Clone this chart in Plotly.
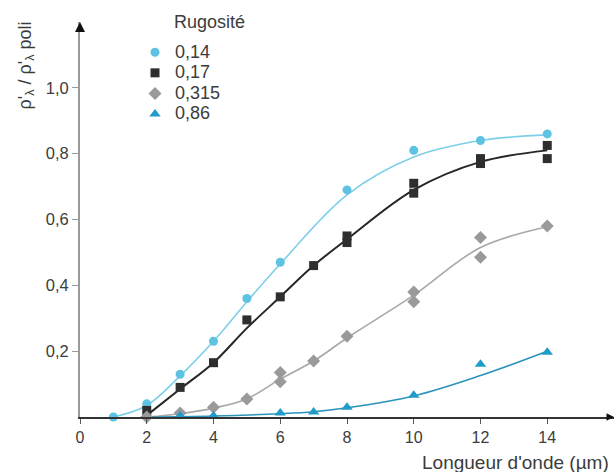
import plotly.graph_objects as go

# ---- data ----
series_names = ["0,14", "0,17", "0,315", "0,86"]

x_014 = [1, 2, 3, 4, 5, 6, 8, 10, 12, 14]
y_014 = [0.0, 0.04, 0.13, 0.23, 0.36, 0.47, 0.69, 0.81, 0.84, 0.86]

x_017 = [2, 3, 4, 5, 6, 7, 8, 8, 10, 10, 12, 12, 14, 14]
y_017 = [0.02, 0.09, 0.165, 0.295, 0.365, 0.46, 0.55, 0.53, 0.71, 0.68, 0.785, 0.77, 0.825, 0.785]

x_0315 = [2, 3, 4, 5, 6, 6, 7, 8, 10, 10, 12, 12, 14]
y_0315 = [0.0, 0.012, 0.03, 0.055, 0.135, 0.107, 0.17, 0.245, 0.38, 0.35, 0.545, 0.485, 0.58]

x_086 = [3, 4, 6, 7, 8, 10, 12, 14]
y_086 = [0.004, 0.004, 0.012, 0.015, 0.03, 0.066, 0.16, 0.197]

# fitted curves (knots)
cx_014 = [1, 2, 3, 4, 5, 6, 8, 10, 12, 14]
cy_014 = [0.0, 0.035, 0.125, 0.23, 0.35, 0.465, 0.675, 0.79, 0.84, 0.857]
cx_017 = [2, 3, 4, 5, 6, 7, 8, 10, 12, 14]
cy_017 = [0.005, 0.085, 0.165, 0.27, 0.365, 0.46, 0.54, 0.69, 0.775, 0.81]
cx_0315 = [2, 3, 4, 5, 6, 7, 8, 10, 12, 14]
cy_0315 = [0.0, 0.01, 0.027, 0.055, 0.115, 0.17, 0.24, 0.37, 0.515, 0.578]
cx_086 = [2, 4, 6, 7, 8, 10, 12, 14]
cy_086 = [0.0, 0.003, 0.01, 0.016, 0.028, 0.064, 0.126, 0.2]

x_tickvals = [0, 2, 4, 6, 8, 10, 12, 14]
x_ticktext = ["0", "2", "4", "6", "8", "10", "12", "14"]
y_tickvals = [0.2, 0.4, 0.6, 0.8, 1.0]
y_ticktext = ["0,2", "0,4", "0,6", "0,8", "1,0"]

legend_title = "Rugosité"
x_title = "Longueur d'onde (µm)"
y_title = "ρ'<sub>λ</sub> / ρ'<sub>λ</sub> poli"

# ---- styles ----
marker_colors = ["#5ec3e2", "#2e2e2e", "#9a9a9a", "#1f9cc8"]
line_colors = ["#7ccfe8", "#262626", "#a8a8a8", "#2a93bd"]
line_widths = [1.6, 2.0, 1.6, 1.6]
symbols = ["circle", "square", "diamond", "triangle-up"]
sizes = [9, 9, 10, 10]

FONT = "Liberation Sans, Arial, sans-serif"
TXT = "#3c3c3c"

X_MAX, Y_MAX = 16, 1.2

points = [(x_014, y_014), (x_017, y_017), (x_0315, y_0315), (x_086, y_086)]
curves = [(cx_014, cy_014), (cx_017, cy_017), (cx_0315, cy_0315), (cx_086, cy_086)]

fig = go.Figure()
for i, (cx, cy) in enumerate(curves):
    fig.add_trace(go.Scatter(
        x=cx, y=cy, mode="lines",
        line=dict(color=line_colors[i], width=line_widths[i], shape="spline", smoothing=1.0),
        showlegend=False, hoverinfo="skip", cliponaxis=False))
for i, (px, py) in enumerate(points):
    fig.add_trace(go.Scatter(
        x=px, y=py, mode="markers",
        name='<span style="font-size:18px">' + series_names[i] + "</span>",
        marker=dict(color=marker_colors[i], symbol=symbols[i], size=sizes[i], line=dict(width=0)),
        cliponaxis=False))

fig.update_layout(
    width=616, height=472,
    margin=dict(l=80, r=2, t=22, b=55),
    paper_bgcolor="white", plot_bgcolor="white",
    font=dict(family=FONT, size=16, color=TXT),
    showlegend=True,
    legend=dict(x=0.103, y=0.962, xanchor="left", yanchor="top",
                bgcolor="rgba(0,0,0,0)", font=dict(size=13.5, color=TXT),
                itemwidth=30, tracegroupgap=0),
    xaxis=dict(range=[0, X_MAX], showgrid=False, zeroline=False,
               showline=True, linecolor="#333333", linewidth=1.5,
               ticks="outside", ticklen=5, tickcolor="#555555", tickwidth=1,
               tickvals=x_tickvals, ticktext=x_ticktext, tickfont=dict(size=16, color=TXT)),
    yaxis=dict(range=[0, Y_MAX], showgrid=False, zeroline=False,
               showline=True, linecolor="#9a9a9a", linewidth=2,
               ticks="outside", ticklen=6, tickcolor="#9a9a9a", tickwidth=1,
               tickvals=y_tickvals, ticktext=y_ticktext, tickfont=dict(size=16.5, color=TXT)),
    annotations=[
        dict(text=legend_title, xref="paper", yref="paper", x=0.172, y=1.0,
             xanchor="left", yanchor="middle", showarrow=False, font=dict(size=18, color=TXT)),
        dict(text=x_title, xref="paper", yref="paper", x=0.994, y=-0.116,
             xanchor="right", yanchor="middle", showarrow=False, font=dict(size=19, color=TXT)),
        dict(text=y_title, xref="paper", yref="paper", x=-0.101, y=0.89,
             xanchor="center", yanchor="middle", textangle=-90, showarrow=False,
             font=dict(size=18, color=TXT)),
        dict(x=0, y=Y_MAX, ax=0, ay=Y_MAX - 0.03, xref="x", yref="y", axref="x", ayref="y",
             text="", showarrow=True, arrowhead=2, arrowsize=1, arrowwidth=2, arrowcolor="#111111"),
        dict(x=X_MAX, y=0, ax=X_MAX - 0.2, ay=0, xref="x", yref="y", axref="x", ayref="y",
             text="", showarrow=True, arrowhead=2, arrowsize=1, arrowwidth=1.5, arrowcolor="#111111"),
    ],
)

fig.write_html("out.html", config={"displayModeBar": False},
               post_script="document.body.style.margin='0';document.body.style.overflow='hidden';")
